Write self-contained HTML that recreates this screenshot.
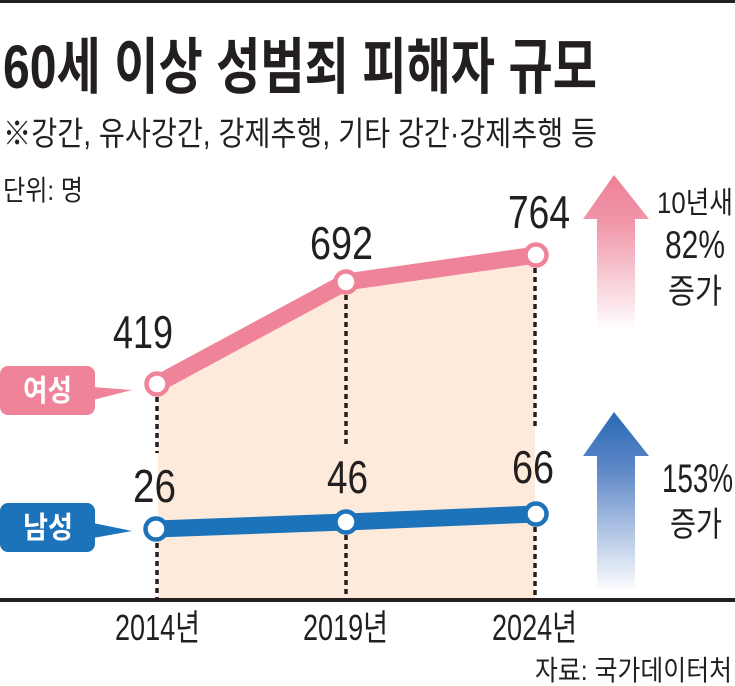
<!DOCTYPE html>
<html>
<head>
<meta charset="utf-8">
<style>
html,body{margin:0;padding:0;background:#fff;}
svg{display:block;}
text{font-family:"Liberation Sans","Noto Sans CJK KR",sans-serif;fill:#231f20;}
</style>
</head>
<body>
<svg width="735" height="686" viewBox="0 0 735 686" xmlns="http://www.w3.org/2000/svg">
<defs>
<linearGradient id="gp" gradientUnits="userSpaceOnUse" x1="0" y1="175" x2="0" y2="330">
<stop offset="0" stop-color="#ee8197"/>
<stop offset="0.3" stop-color="#f095a8"/>
<stop offset="1" stop-color="#ffffff"/>
</linearGradient>
<linearGradient id="gb" gradientUnits="userSpaceOnUse" x1="0" y1="412" x2="0" y2="592">
<stop offset="0" stop-color="#2a6ab5"/>
<stop offset="0.3" stop-color="#5a85c6"/>
<stop offset="1" stop-color="#ffffff"/>
</linearGradient>
</defs>
<rect x="0" y="0" width="735" height="686" fill="#fff"/>
<rect x="0" y="0" width="735" height="3" fill="#231f20"/>

<!-- Title -->
<text x="3" y="88" font-size="61" font-weight="bold" textLength="594" lengthAdjust="spacingAndGlyphs">60세 이상 성범죄 피해자 규모</text>
<text x="3" y="145" font-size="33" textLength="594" lengthAdjust="spacingAndGlyphs">※강간, 유사강간, 강제추행, 기타 강간·강제추행 등</text>
<text x="3" y="200" font-size="28" textLength="80" lengthAdjust="spacingAndGlyphs">단위: 명</text>

<!-- fill -->
<polygon points="158,384 346,282 535,255 535,600 158,600" fill="#fdeadb"/>

<!-- dotted lines -->
<g stroke="#231f20" stroke-width="3.5" stroke-dasharray="5 4" fill="none">
<line x1="157" y1="397" x2="157" y2="453"/>
<line x1="157" y1="543" x2="157" y2="598"/>
<line x1="346" y1="295" x2="346" y2="445"/>
<line x1="346" y1="535" x2="346" y2="598"/>
<line x1="535" y1="268" x2="535" y2="428"/>
<line x1="535" y1="527" x2="535" y2="598"/>
</g>

<!-- axis -->
<rect x="0" y="598" width="735" height="4" fill="#231f20"/>

<!-- lines -->
<polyline points="157,384 346,282 536,255" fill="none" stroke="#ef8399" stroke-width="17" stroke-linejoin="round"/>
<polyline points="156,529 346,522 536,514" fill="none" stroke="#1c73ba" stroke-width="17" stroke-linejoin="round"/>

<!-- circles -->
<g fill="#fff" stroke-width="4.5">
<circle cx="157" cy="384" r="10.5" stroke="#ef8399"/>
<circle cx="346" cy="282" r="10.5" stroke="#ef8399"/>
<circle cx="536" cy="255" r="10.5" stroke="#ef8399"/>
<circle cx="156" cy="529" r="10.5" stroke="#1c73ba"/>
<circle cx="346" cy="522" r="10.5" stroke="#1c73ba"/>
<circle cx="536" cy="514" r="10.5" stroke="#1c73ba"/>
</g>

<!-- value labels -->
<text x="113" y="348" font-size="46" textLength="60" lengthAdjust="spacingAndGlyphs">419</text>
<text x="310" y="259" font-size="46" textLength="63" lengthAdjust="spacingAndGlyphs">692</text>
<text x="508" y="228" font-size="46" textLength="62" lengthAdjust="spacingAndGlyphs">764</text>
<text x="133" y="502" font-size="46" textLength="43" lengthAdjust="spacingAndGlyphs">26</text>
<text x="327" y="493" font-size="46" textLength="41" lengthAdjust="spacingAndGlyphs">46</text>
<text x="512" y="483" font-size="46" textLength="42" lengthAdjust="spacingAndGlyphs">66</text>

<!-- legend labels -->
<rect x="0" y="366" width="95" height="49" rx="8" fill="#ef8399"/>
<polygon points="93,387 132,390 93,400" fill="#ef8399"/>
<text x="23" y="401" font-size="30" font-weight="bold" style="fill:#fff" textLength="49" lengthAdjust="spacingAndGlyphs">여성</text>

<rect x="0" y="503" width="95" height="49" rx="8" fill="#1c73ba"/>
<polygon points="93,523 132,531 93,538" fill="#1c73ba"/>
<text x="23" y="538" font-size="30" font-weight="bold" style="fill:#fff" textLength="50" lengthAdjust="spacingAndGlyphs">남성</text>

<!-- arrows -->
<path d="M614,175 L649,219 L635,219 L635,328 L597,328 L597,219 L583,219 Z" fill="url(#gp)"/>
<path d="M614,412 L649,456 L635,456 L635,591 L597,591 L597,456 L583,456 Z" fill="url(#gb)"/>

<!-- right texts -->
<text x="657" y="213" font-size="30" textLength="76" lengthAdjust="spacingAndGlyphs">10년새</text>
<text x="665" y="258" font-size="39" textLength="60" lengthAdjust="spacingAndGlyphs">82%</text>
<text x="668" y="303" font-size="34" textLength="54" lengthAdjust="spacingAndGlyphs">증가</text>
<text x="662" y="492" font-size="40" textLength="71" lengthAdjust="spacingAndGlyphs">153%</text>
<text x="670" y="536" font-size="34" textLength="52" lengthAdjust="spacingAndGlyphs">증가</text>

<!-- x labels -->
<text x="115" y="640" font-size="36" textLength="85" lengthAdjust="spacingAndGlyphs">2014년</text>
<text x="303" y="640" font-size="36" textLength="85" lengthAdjust="spacingAndGlyphs">2019년</text>
<text x="492" y="640" font-size="36" textLength="85" lengthAdjust="spacingAndGlyphs">2024년</text>

<!-- source -->
<text x="535" y="680" font-size="28" textLength="197" lengthAdjust="spacingAndGlyphs">자료: 국가데이터처</text>
</svg>
</body>
</html>
